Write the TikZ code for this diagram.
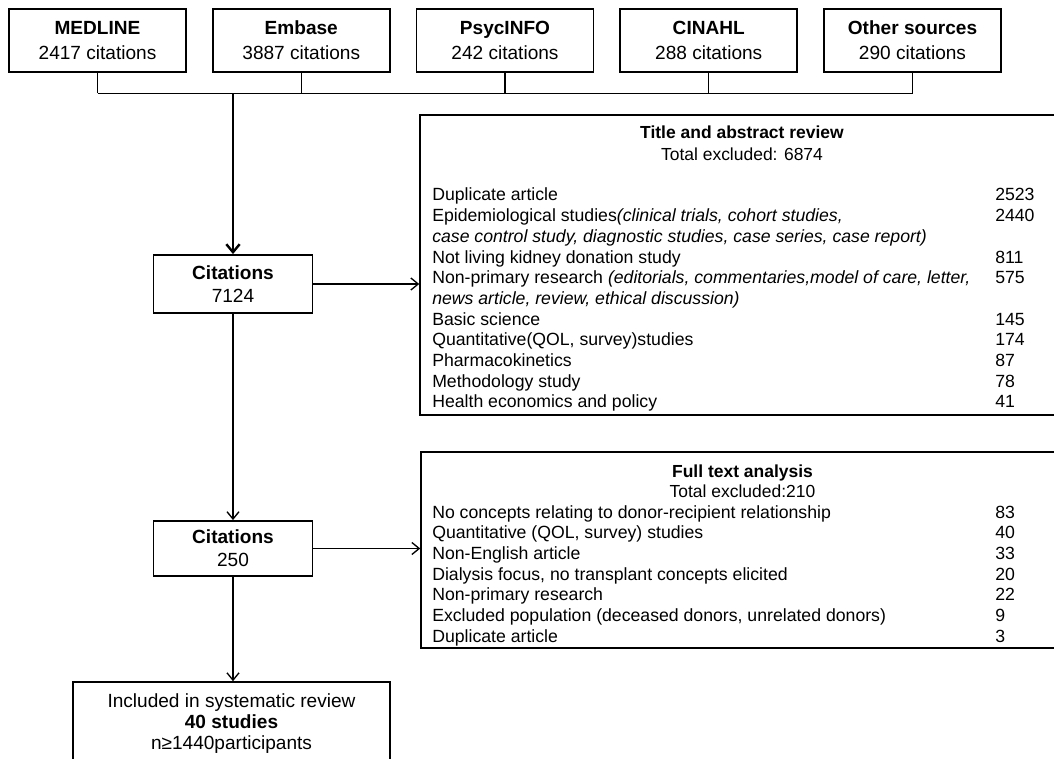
\documentclass[tikz,border=0pt]{standalone}
\usepackage{fontspec}
\setmainfont{Liberation Sans}
\usetikzlibrary{arrows.meta}
\begin{document}
\begin{tikzpicture}[x=0.75pt,y=-0.75pt,
  srcbox/.style={draw, line width=1.2pt, minimum width=132.75pt, minimum height=47.25pt, inner sep=0pt, align=center, font=\fontsize{14.3}{18.75}\selectfont},
  citbox/.style={draw, line width=1.4pt, minimum width=119.25pt, inner sep=0pt, align=center, font=\fontsize{14.3}{17.25}\selectfont},
  listbox/.style={draw, line width=1.1pt, inner sep=0pt},
  itemtxt/.style={anchor=base west, inner sep=0pt, font=\fontsize{13.25}{15}\selectfont},
  headtxt/.style={anchor=base, inner sep=0pt, font=\fontsize{13.1}{15}\selectfont},
  conn/.style={line width=1pt},
  arr/.style={line width=1pt, -{Straight Barb[length=5.5pt,width=9pt]}},
  thickarr/.style={line width=1.8pt, -{Straight Barb[length=6pt,width=10pt]}},
]
\useasboundingbox (0,0) rectangle (1054,759);
\clip (0,0) rectangle (1054,759);

% source boxes
\node[srcbox] (med) at (97.5,40.5) {\textbf{MEDLINE}\\2417 citations};
\node[srcbox] (emb) at (301.25,40.5) {\textbf{Embase}\\3887 citations};
\node[srcbox] (psy) at (505,40.5) {\textbf{PsycINFO}\\242 citations};
\node[srcbox] (cin) at (708.75,40.5) {\textbf{CINAHL}\\288 citations};
\node[srcbox] (oth) at (912.5,40.5) {\textbf{Other sources}\\290 citations};

\coordinate (bus) at (232,93.5);

% citations boxes
\node[citbox, minimum height=43.5pt] (cit1) at (233,284) {\textbf{Citations}\\7124};
\node[citbox, minimum height=41.25pt] (cit2) at (233,548.5) {\textbf{Citations}\\250};

% included box (cut by the picture's lower edge)
\node[draw, line width=1.2pt, minimum width=237.75pt, minimum height=63pt, inner sep=0pt, align=center,
      font=\fontsize{14.3}{15.75}\selectfont] (inc) at (231.5,724)
      {Included in systematic review\\\textbf{40 studies}\\n≥1440participants};

% title and abstract review box
\node[listbox, minimum width=483pt, minimum height=225pt] (tab) at (742,265) {};
\node[headtxt] (tabh) at (742,139) {\textbf{Title and abstract review}};
\node[headtxt] (tabt) at (742,161) {Total excluded: 6874};
\node[itemtxt] (a1) at (432,201) {Duplicate article};
\node[itemtxt] (a2) at (432,221.7) {Epidemiological studies\textit{(clinical trials, cohort studies,}};
\node[itemtxt] (a3) at (432,242.4) {\textit{case control study, diagnostic studies, case series, case report)}};
\node[itemtxt] (a4) at (432,263.1) {Not living kidney donation study};
\node[itemtxt] (a5) at (432,283.8) {Non-primary research \textit{(editorials, commentaries,model of care, letter,}};
\node[itemtxt] (a6) at (432,304.5) {\textit{news article, review, ethical discussion)}};
\node[itemtxt] (a7) at (432,325.2) {Basic science};
\node[itemtxt] (a8) at (432,345.9) {Quantitative(QOL, survey)studies};
\node[itemtxt] (a9) at (432,366.6) {Pharmacokinetics};
\node[itemtxt] (a10) at (432,387.3) {Methodology study};
\node[itemtxt] (a11) at (432,408) {Health economics and policy};
\node[itemtxt] (n1) at (995,201) {2523};
\node[itemtxt] (n2) at (995,221.7) {2440};
\node[itemtxt] (n4) at (995,263.1) {811};
\node[itemtxt] (n5) at (995,283.8) {575};
\node[itemtxt] (n7) at (995,325.2) {145};
\node[itemtxt] (n8) at (995,345.9) {174};
\node[itemtxt] (n9) at (995,366.6) {87};
\node[itemtxt] (n10) at (995,387.3) {78};
\node[itemtxt] (n11) at (995,408) {41};

% full text analysis box
\node[listbox, minimum width=482.25pt, minimum height=147pt] (fta) at (742.5,550) {};
\node[headtxt] (ftah) at (742.5,478) {\textbf{Full text analysis}};
\node[headtxt] (ftat) at (742.5,498) {Total excluded:210};
\node[itemtxt] (b1) at (432,518) {No concepts relating to donor-recipient relationship};
\node[itemtxt] (b2) at (432,538.7) {Quantitative (QOL, survey) studies};
\node[itemtxt] (b3) at (432,559.4) {Non-English article};
\node[itemtxt] (b4) at (432,580.1) {Dialysis focus, no transplant concepts elicited};
\node[itemtxt] (b5) at (432,600.8) {Non-primary research};
\node[itemtxt] (b6) at (432,621.5) {Excluded population (deceased donors, unrelated donors)};
\node[itemtxt] (b7) at (432,642.2) {Duplicate article};
\node[itemtxt] (m1) at (995,518) {83};
\node[itemtxt] (m2) at (995,538.7) {40};
\node[itemtxt] (m3) at (995,559.4) {33};
\node[itemtxt] (m4) at (995,580.1) {20};
\node[itemtxt] (m5) at (995,600.8) {22};
\node[itemtxt] (m6) at (995,621.5) {9};
\node[itemtxt] (m7) at (995,642.2) {3};

% connectors
\draw[conn] (med.south) -- (med.south |- bus);
\draw[conn] (emb.south) -- (emb.south |- bus);
\draw[conn] (psy.south) -- (psy.south |- bus);
\draw[conn] (cin.south) -- (cin.south |- bus);
\draw[conn] (oth.south) -- (oth.south |- bus);
\draw[conn] (med.south |- bus) -- (oth.south |- bus);
\draw[thickarr] (cit1.north |- bus) -- (cit1.north);
\draw[arr] (cit1.east) -- (cit1.east -| tab.west);
\draw[arr] (cit1.south) -- (cit2.north);
\draw[arr] (cit2.east) -- (cit2.east -| fta.west);
\draw[arr] (cit2.south) -- (cit2.south |- inc.north);
\end{tikzpicture}
\end{document}
